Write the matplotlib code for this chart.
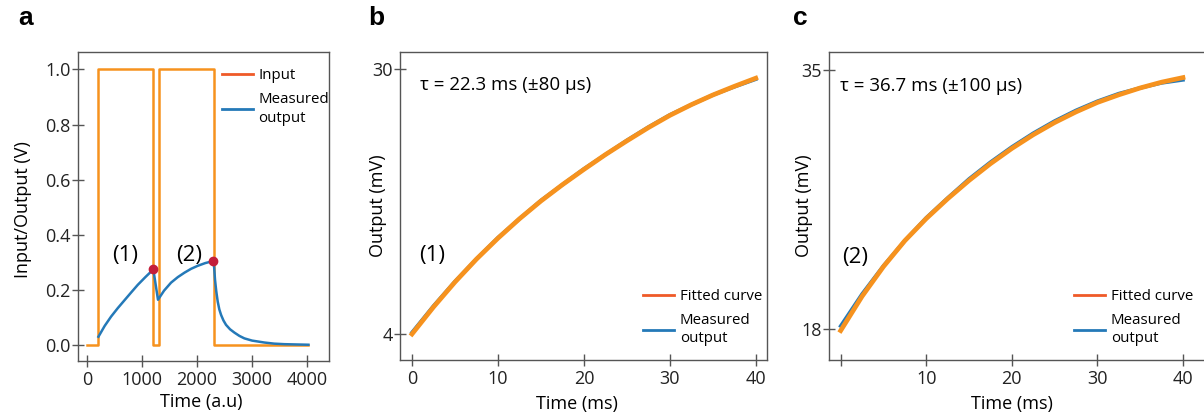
import matplotlib
matplotlib.use("Agg")
import matplotlib.pyplot as plt
from matplotlib.lines import Line2D

plt.rcParams['font.family'] = ['Open Sans', 'DejaVu Sans']
plt.rcParams['font.size'] = 13

ORANGE = "#F6921E"
RED_ORANGE = "#EF5A28"
BLUE = "#2479B8"
DOT_RED = "#C41E3A"
SPINE = "#555555"

# ---- panel a : square wave input and measured output
input_t = [0, 207, 207, 1200, 1200, 1303, 1303, 2316, 2316, 4025]
input_v = [0, 0, 1, 1, 0, 0, 1, 1, 0, 0]

output_t = [207, 320, 437, 560, 680, 800, 922, 1060, 1205,
            1290, 1400, 1527, 1650, 1770, 1890, 2012, 2150, 2290,
            2310, 2327, 2350, 2376, 2405, 2437, 2480, 2527, 2600, 2679,
            2770, 2861, 3000, 3224, 3400, 3588, 3800, 4025]
output_v = [0.031, 0.070, 0.104, 0.135, 0.163, 0.191, 0.219, 0.247, 0.275,
            0.165, 0.198, 0.227, 0.247, 0.263, 0.277, 0.288, 0.298, 0.305,
            0.285, 0.237, 0.195, 0.158, 0.130, 0.110, 0.090, 0.074, 0.058, 0.046,
            0.034, 0.025, 0.017, 0.010, 0.006, 0.004, 0.003, 0.002]

peak_t = [1205, 2290]
peak_v = [0.275, 0.305]

# ---- panel b : charging segment (1)
t_ms = [0, 2.5, 5, 7.5, 10, 12.5, 15, 17.5, 20, 22.5, 25, 27.5, 30, 32.5, 35, 37.5, 40]
fit1 = [4.0, 6.65, 9.1, 11.35, 13.4, 15.3, 17.05, 18.65, 20.15, 21.6, 22.95, 24.25, 25.45, 26.5, 27.45, 28.3, 29.1]
meas1 = [4.15, 6.75, 9.15, 11.35, 13.45, 15.3, 17.1, 18.65, 20.2, 21.6, 23.0, 24.3, 25.5, 26.5, 27.45, 28.25, 29.0]

# ---- panel c : charging segment (2)
fit2 = [17.9, 20.15, 22.1, 23.8, 25.25, 26.55, 27.75, 28.85, 29.85, 30.75, 31.55, 32.25, 32.87, 33.37, 33.82, 34.2, 34.5]
meas2 = [18.2, 20.3, 22.15, 23.8, 25.3, 26.6, 27.85, 28.95, 29.95, 30.85, 31.65, 32.35, 32.95, 33.45, 33.82, 34.15, 34.35]


def style_axes(ax):
    for s in ax.spines.values():
        s.set_color(SPINE)
        s.set_linewidth(1.0)
    ax.tick_params(direction='inout', length=8.5, width=1.0, color=SPINE,
                   labelsize=13, labelcolor='#222222')
    ax.tick_params(axis='y', pad=1)
    ax.tick_params(axis='x', pad=3)


def add_legend(ax, labels, anchor):
    handles = [Line2D([], [], color=RED_ORANGE, lw=2), Line2D([], [], color=BLUE, lw=2)]
    leg = ax.legend(handles, labels, loc='upper left', bbox_to_anchor=anchor,
                    frameon=False, borderpad=0, borderaxespad=0, handlelength=2.05,
                    handletextpad=0.4, labelspacing=0.6, fontsize=10.8)
    for t in leg.get_texts():
        t.set_linespacing(1.3)


fig = plt.figure(figsize=(12.04, 4.19), dpi=100)

# panel a
ax1 = fig.add_axes([0.0648, 0.1384, 0.2085, 0.7375])
ax1.plot(input_t, input_v, color=ORANGE, lw=1.8)
ax1.plot(output_t, output_v, color=BLUE, lw=1.8, solid_joinstyle='round')
ax1.plot(peak_t, peak_v, 'o', color=DOT_RED, ms=6)
ax1.set_xlim(-164, 4400)
ax1.set_ylim(-0.057, 1.063)
ax1.set_xticks([0, 1000, 2000, 3000, 4000])
ax1.set_yticks([0.0, 0.2, 0.4, 0.6, 0.8, 1.0])
ax1.set_yticklabels(['0.0', '0.2', '0.4', '0.6', '0.8', '1.0'])
ax1.set_xlabel('Time (a.u)', fontsize=13)
ax1.set_ylabel('Input/Output (V)', fontsize=13)
ax1.xaxis.set_label_coords(0.49, -0.104)
ax1.yaxis.set_label_coords(-0.183, 0.49)
ax1.text(691, 0.324, '(1)', fontsize=16, ha='center', va='center')
ax1.text(1855, 0.324, '(2)', fontsize=16, ha='center', va='center')
add_legend(ax1, ['Input', 'Measured\noutput'], (0.573, 0.947))
style_axes(ax1)

# panel b
ax2 = fig.add_axes([0.3322, 0.1408, 0.3048, 0.7351])
ax2.plot(t_ms, meas1, color=BLUE, lw=2.6, solid_joinstyle='round')
ax2.plot(t_ms, fit1, color=ORANGE, lw=3.4, solid_joinstyle='round')
ax2.set_xlim(-1.4, 41.3)
ax2.set_ylim(1.45, 31.67)
ax2.set_xticks([0, 10, 20, 30, 40])
ax2.set_yticks([4, 30])
ax2.set_xlabel('Time (ms)', fontsize=13)
ax2.set_ylabel('Output (mV)', fontsize=13)
ax2.xaxis.set_label_coords(0.482, -0.114)
ax2.yaxis.set_label_coords(-0.035, 0.5)
ax2.text(0.9, 28.43, 'τ = 22.3 ms (±80 μs)', fontsize=13.5, ha='left', va='center')
ax2.text(2.3, 11.75, '(1)', fontsize=16, ha='center', va='center')
add_legend(ax2, ['Fitted curve', 'Measured\noutput'], (0.662, 0.231))
style_axes(ax2)

# panel c
ax3 = fig.add_axes([0.6885, 0.1408, 0.3164, 0.7351])
ax3.plot(t_ms, meas2, color=BLUE, lw=2.6, solid_joinstyle='round')
ax3.plot(t_ms, fit2, color=ORANGE, lw=3.4, solid_joinstyle='round')
ax3.set_xlim(-1.37, 43.15)
ax3.set_ylim(15.97, 36.18)
ax3.set_xticks([0, 10, 20, 30, 40])
ax3.set_xticklabels(['', '10', '20', '30', '40'])
ax3.set_yticks([18, 35])
ax3.set_xlabel('Time (ms)', fontsize=13)
ax3.set_ylabel('Output (mV)', fontsize=13)
ax3.xaxis.set_label_coords(0.48, -0.114)
ax3.yaxis.set_label_coords(-0.042, 0.5)
ax3.text(-0.08, 33.95, 'τ = 36.7 ms (±100 μs)', fontsize=13.5, ha='left', va='center')
ax3.text(1.67, 22.72, '(2)', fontsize=16, ha='center', va='center')
add_legend(ax3, ['Fitted curve', 'Measured\noutput'], (0.643, 0.231))
style_axes(ax3)

# panel letters
for x, letter in [(18, 'a'), (368, 'b'), (793, 'c')]:
    fig.text(x / 1204, 1 - 25 / 419, letter, fontsize=19, fontweight='bold',
             family='Liberation Sans', ha='left', va='baseline')

fig.savefig('out.png', dpi=100)
